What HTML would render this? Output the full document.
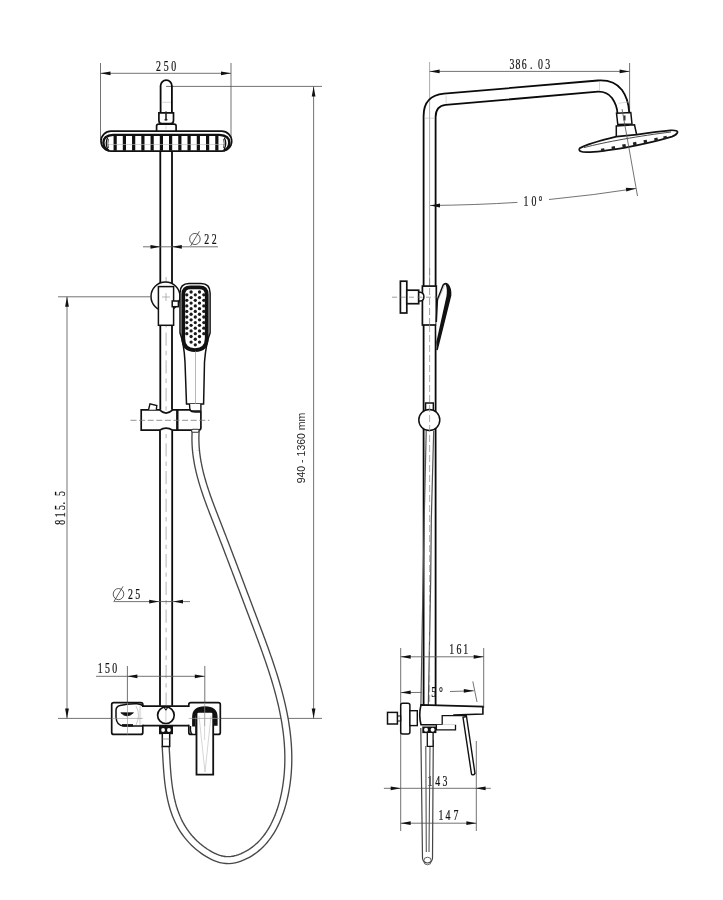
<!DOCTYPE html>
<html><head><meta charset="utf-8"><style>
html,body{margin:0;padding:0;background:#fff;}
svg{display:block;will-change:transform;}
</style></head><body>
<svg width="723" height="900" viewBox="0 0 723 900">
<rect width="723" height="900" fill="#fff"/>
<line x1="100.5" y1="63" x2="100.5" y2="140" fill="none" stroke="#5a5a5a" stroke-width="0.85"/>
<line x1="231" y1="63" x2="231" y2="140" fill="none" stroke="#5a5a5a" stroke-width="0.85"/>
<line x1="100.5" y1="73.3" x2="231" y2="73.3" fill="none" stroke="#5a5a5a" stroke-width="0.85"/>
<polygon points="100.50,73.30 110.50,71.40 110.50,75.20" fill="#111"/>
<polygon points="231.00,73.30 221.00,75.20 221.00,71.40" fill="#111"/>
<g fill="#111" stroke="#111" stroke-width="0.22" font-family="Liberation Serif"><text transform="translate(158.40,70.80) scale(0.68,1)" text-anchor="middle" font-size="14.5">2</text><text transform="translate(166.30,70.80) scale(0.68,1)" text-anchor="middle" font-size="14.5">5</text><text transform="translate(173.80,70.80) scale(0.68,1)" text-anchor="middle" font-size="14.5">0</text></g>
<line x1="166" y1="86.4" x2="322" y2="86.4" fill="none" stroke="#5a5a5a" stroke-width="0.85"/>
<line x1="58" y1="718.4" x2="322" y2="718.4" fill="none" stroke="#5a5a5a" stroke-width="0.85"/>
<line x1="313.6" y1="86.4" x2="313.6" y2="718.4" fill="none" stroke="#5a5a5a" stroke-width="0.85"/>
<polygon points="313.60,86.40 315.50,96.40 311.70,96.40" fill="#111"/>
<polygon points="313.60,718.40 311.70,708.40 315.50,708.40" fill="#111"/>
<text transform="translate(305,448) rotate(-90)" text-anchor="middle" font-family="Liberation Sans" font-size="10.5" fill="#222">940 - 1360 mm</text>
<path d="M160.6,112.8 V85.8 A5.65,5.65 0 0 1 171.9,85.8 V112.8" fill="none" stroke="#0a0a0a" stroke-width="1.8"/>
<line x1="161.5" y1="102.3" x2="171" y2="102.3" stroke="#bbb" stroke-width="0.6"/>
<path d="M158.9,112.9 H173.5 V120.5 Q173.5,123.6 170.5,123.6 H161.9 Q158.9,123.6 158.9,120.5 Z" fill="#fff" stroke="#111" stroke-width="1.7"/>
<path d="M156.6,131 V126 Q156.6,124.1 158.6,124.1 H174.1 Q176.1,124.1 176.1,126 V131" fill="#fff" stroke="#111" stroke-width="1.7"/>
<rect x="165.2" y="111.5" width="1.6" height="8.5" fill="#222"/><ellipse cx="166" cy="119.8" rx="1.6" ry="1" fill="#222"/>
<line x1="166" y1="125.5" x2="166" y2="129.5" stroke="#bbb" stroke-width="0.6"/>
<path d="M111,131.2 H221.7 A10,9.95 0 0 1 221.7,151.1 H111 A10,9.95 0 0 1 111,131.2 Z" fill="#fff" stroke="#111" stroke-width="1.7"/>
<rect x="159.80" y="135.5" width="3.2" height="15.2" fill="#111"/>
<rect x="169.00" y="135.5" width="3.2" height="15.2" fill="#111"/>
<rect x="150.55" y="135.5" width="3.2" height="15.2" fill="#111"/>
<rect x="178.25" y="135.5" width="3.2" height="15.2" fill="#111"/>
<rect x="141.30" y="135.5" width="3.2" height="15.2" fill="#111"/>
<rect x="187.50" y="135.5" width="3.2" height="15.2" fill="#111"/>
<rect x="132.05" y="135.5" width="3.2" height="15.2" fill="#111"/>
<rect x="196.75" y="135.5" width="3.2" height="15.2" fill="#111"/>
<rect x="122.80" y="135.5" width="3.2" height="15.2" fill="#111"/>
<rect x="206.00" y="135.5" width="3.2" height="15.2" fill="#111"/>
<rect x="113.55" y="135.5" width="3.2" height="15.2" fill="#111"/>
<rect x="215.25" y="135.5" width="3.2" height="15.2" fill="#111"/>
<line x1="106" y1="144.5" x2="226" y2="144.5" stroke="#bbb" stroke-width="0.6"/>
<path d="M113,134.9 H219.5 Q229.3,135.6 229.3,142.5 Q229.1,149 223.5,150.6" fill="none" stroke="#111" stroke-width="2.4"/>
<path d="M113,134.9 Q103.4,135.6 103.4,142.5 Q103.6,149 109,150.6" fill="none" stroke="#111" stroke-width="2.4"/>
<path d="M224.3,137.8 Q227.3,143 224.3,149" fill="none" stroke="#111" stroke-width="1.3"/>
<path d="M107.7,137.8 Q104.7,143 107.7,149" fill="none" stroke="#111" stroke-width="1.3"/>
<path d="M108.5,139 Q107.2,143 108.5,148 M223.5,139 Q224.8,143 223.5,148" fill="none" stroke="#555" stroke-width="1"/>
<line x1="160.3" y1="151.3" x2="160.3" y2="286.6" fill="none" stroke="#0a0a0a" stroke-width="1.8"/>
<line x1="160.3" y1="325.3" x2="160.3" y2="409.8" fill="none" stroke="#0a0a0a" stroke-width="1.8"/>
<line x1="172.0" y1="151.3" x2="172.0" y2="286.6" fill="none" stroke="#0a0a0a" stroke-width="1.8"/>
<line x1="172.0" y1="325.3" x2="172.0" y2="409.8" fill="none" stroke="#0a0a0a" stroke-width="1.8"/>
<line x1="160.0" y1="430.5" x2="160.0" y2="705.8" fill="none" stroke="#0a0a0a" stroke-width="1.8"/>
<line x1="172.2" y1="430.5" x2="172.2" y2="705.8" fill="none" stroke="#0a0a0a" stroke-width="1.8"/>
<line x1="166.1" y1="275" x2="166.1" y2="705" stroke="#bbb" stroke-width="1.1" stroke-dasharray="13.3,5,4.4,5" stroke-dashoffset="25.6"/>
<line x1="143" y1="246.8" x2="218" y2="246.8" fill="none" stroke="#5a5a5a" stroke-width="0.85"/>
<polygon points="160.50,246.80 150.50,248.70 150.50,244.90" fill="#111"/>
<polygon points="171.80,246.80 181.80,244.90 181.80,248.70" fill="#111"/>
<ellipse cx="194.9" cy="239" rx="5.3" ry="5.565" fill="none" stroke="#333" stroke-width="0.8"/>
<line x1="190.66" y1="245.89" x2="199.405" y2="231.315" stroke="#333" stroke-width="0.8"/>
<g fill="#111" stroke="#111" stroke-width="0.22" font-family="Liberation Serif"><text transform="translate(206.80,243.80) scale(0.68,1)" text-anchor="middle" font-size="14.5">2</text><text transform="translate(214.30,243.80) scale(0.68,1)" text-anchor="middle" font-size="14.5">2</text></g>
<line x1="113.5" y1="601.6" x2="190" y2="601.6" fill="none" stroke="#5a5a5a" stroke-width="0.85"/>
<polygon points="159.20,601.60 149.20,603.50 149.20,599.70" fill="#111"/>
<polygon points="173.00,601.60 183.00,599.70 183.00,603.50" fill="#111"/>
<ellipse cx="118.5" cy="594.1" rx="5.3" ry="5.565" fill="none" stroke="#333" stroke-width="0.8"/>
<line x1="114.26" y1="600.99" x2="123.005" y2="586.4150000000001" stroke="#333" stroke-width="0.8"/>
<g fill="#111" stroke="#111" stroke-width="0.22" font-family="Liberation Serif"><text transform="translate(130.50,598.70) scale(0.68,1)" text-anchor="middle" font-size="14.5">2</text><text transform="translate(137.80,598.70) scale(0.68,1)" text-anchor="middle" font-size="14.5">5</text></g>
<line x1="58" y1="296.8" x2="150" y2="296.8" fill="none" stroke="#5a5a5a" stroke-width="0.85"/>
<line x1="67" y1="296.8" x2="67" y2="718.4" fill="none" stroke="#5a5a5a" stroke-width="0.85"/>
<polygon points="67.00,296.80 68.90,306.80 65.10,306.80" fill="#111"/>
<polygon points="67.00,718.40 65.10,708.40 68.90,708.40" fill="#111"/>
<g fill="#111" stroke="#111" stroke-width="0.22" font-family="Liberation Serif"><text transform="translate(64.70,522.30) rotate(-90) scale(0.68,1)" text-anchor="middle" font-size="14.5">8</text><text transform="translate(64.70,514.80) rotate(-90) scale(0.68,1)" text-anchor="middle" font-size="14.5">1</text><text transform="translate(64.70,507.50) rotate(-90) scale(0.68,1)" text-anchor="middle" font-size="14.5">5</text><text transform="translate(64.70,503.20) rotate(-90) scale(0.68,1)" text-anchor="middle" font-size="14.5">.</text><text transform="translate(64.70,493.50) rotate(-90) scale(0.68,1)" text-anchor="middle" font-size="14.5">5</text></g>
<line x1="96" y1="676.3" x2="205" y2="676.3" fill="none" stroke="#5a5a5a" stroke-width="0.85"/>
<line x1="127.4" y1="666" x2="127.4" y2="703" fill="none" stroke="#5a5a5a" stroke-width="0.85"/>
<line x1="204.8" y1="666" x2="204.8" y2="703" fill="none" stroke="#5a5a5a" stroke-width="0.85"/>
<polygon points="127.40,676.30 137.40,674.40 137.40,678.20" fill="#111"/>
<polygon points="204.80,676.30 194.80,678.20 194.80,674.40" fill="#111"/>
<g fill="#111" stroke="#111" stroke-width="0.22" font-family="Liberation Serif"><text transform="translate(100.10,673.10) scale(0.68,1)" text-anchor="middle" font-size="14.5">1</text><text transform="translate(107.40,673.10) scale(0.68,1)" text-anchor="middle" font-size="14.5">5</text><text transform="translate(114.70,673.10) scale(0.68,1)" text-anchor="middle" font-size="14.5">0</text></g>
<circle cx="165.5" cy="296.5" r="14.5" fill="#fff" stroke="#111" stroke-width="1.5"/>
<rect x="158.4" y="286.6" width="15.2" height="38.7" fill="#fff" stroke="#111" stroke-width="1.5"/>
<rect x="172.2" y="301" width="6.2" height="5.7" fill="#fff" stroke="#111" stroke-width="1.5"/>
<line x1="162" y1="297" x2="170" y2="297" fill="none" stroke="#999" stroke-width="0.7"/>
<line x1="166" y1="293" x2="166" y2="301" fill="none" stroke="#999" stroke-width="0.7"/>
<path d="M186.5,404 L185,362 Q184,343 180,333 V293 Q180,283.6 189,283.6 H201 Q210.1,283.6 210.1,293 V333 Q206,343 204.5,362 L203.6,404 Z" fill="#fff" stroke="#111" stroke-width="1.5"/>
<path d="M183.25,294.5 Q183.25,287.35 190.5,287.35 H199.5 Q206.75,287.35 206.75,294.5 V338.3 Q206.75,350.05 195,350.05 Q183.25,350.05 183.25,338.3 Z" fill="none" stroke="#111" stroke-width="3.8"/>
<circle cx="191.10" cy="292.00" r="1.65" fill="#1a1a1a"/>
<circle cx="199.50" cy="292.00" r="1.65" fill="#1a1a1a"/>
<circle cx="186.80" cy="294.78" r="1.65" fill="#1a1a1a"/>
<circle cx="195.30" cy="294.78" r="1.65" fill="#1a1a1a"/>
<circle cx="203.80" cy="294.78" r="1.65" fill="#1a1a1a"/>
<circle cx="191.10" cy="297.56" r="1.65" fill="#1a1a1a"/>
<circle cx="199.50" cy="297.56" r="1.65" fill="#1a1a1a"/>
<circle cx="186.80" cy="300.34" r="1.65" fill="#1a1a1a"/>
<circle cx="195.30" cy="300.34" r="1.65" fill="#1a1a1a"/>
<circle cx="203.80" cy="300.34" r="1.65" fill="#1a1a1a"/>
<circle cx="191.10" cy="303.12" r="1.65" fill="#1a1a1a"/>
<circle cx="199.50" cy="303.12" r="1.65" fill="#1a1a1a"/>
<circle cx="186.80" cy="305.90" r="1.65" fill="#1a1a1a"/>
<circle cx="195.30" cy="305.90" r="1.65" fill="#1a1a1a"/>
<circle cx="203.80" cy="305.90" r="1.65" fill="#1a1a1a"/>
<circle cx="191.10" cy="308.68" r="1.65" fill="#1a1a1a"/>
<circle cx="199.50" cy="308.68" r="1.65" fill="#1a1a1a"/>
<circle cx="186.80" cy="311.46" r="1.65" fill="#1a1a1a"/>
<circle cx="195.30" cy="311.46" r="1.65" fill="#1a1a1a"/>
<circle cx="203.80" cy="311.46" r="1.65" fill="#1a1a1a"/>
<circle cx="191.10" cy="314.24" r="1.65" fill="#1a1a1a"/>
<circle cx="199.50" cy="314.24" r="1.65" fill="#1a1a1a"/>
<circle cx="186.80" cy="317.02" r="1.65" fill="#1a1a1a"/>
<circle cx="195.30" cy="317.02" r="1.65" fill="#1a1a1a"/>
<circle cx="203.80" cy="317.02" r="1.65" fill="#1a1a1a"/>
<circle cx="191.10" cy="319.80" r="1.65" fill="#1a1a1a"/>
<circle cx="199.50" cy="319.80" r="1.65" fill="#1a1a1a"/>
<circle cx="186.80" cy="322.58" r="1.65" fill="#1a1a1a"/>
<circle cx="195.30" cy="322.58" r="1.65" fill="#1a1a1a"/>
<circle cx="203.80" cy="322.58" r="1.65" fill="#1a1a1a"/>
<circle cx="191.10" cy="325.36" r="1.65" fill="#1a1a1a"/>
<circle cx="199.50" cy="325.36" r="1.65" fill="#1a1a1a"/>
<circle cx="186.80" cy="328.14" r="1.65" fill="#1a1a1a"/>
<circle cx="195.30" cy="328.14" r="1.65" fill="#1a1a1a"/>
<circle cx="203.80" cy="328.14" r="1.65" fill="#1a1a1a"/>
<circle cx="191.10" cy="330.92" r="1.65" fill="#1a1a1a"/>
<circle cx="199.50" cy="330.92" r="1.65" fill="#1a1a1a"/>
<circle cx="186.80" cy="333.70" r="1.65" fill="#1a1a1a"/>
<circle cx="195.30" cy="333.70" r="1.65" fill="#1a1a1a"/>
<circle cx="203.80" cy="333.70" r="1.65" fill="#1a1a1a"/>
<circle cx="191.10" cy="336.48" r="1.65" fill="#1a1a1a"/>
<circle cx="199.50" cy="336.48" r="1.65" fill="#1a1a1a"/>
<circle cx="195.30" cy="339.26" r="1.65" fill="#1a1a1a"/>
<circle cx="191.10" cy="342.04" r="1.65" fill="#1a1a1a"/>
<circle cx="199.50" cy="342.04" r="1.65" fill="#1a1a1a"/>
<circle cx="195.30" cy="344.82" r="1.65" fill="#1a1a1a"/>
<line x1="195.5" y1="351" x2="195.5" y2="404" fill="none" stroke="#999" stroke-width="0.7"/>
<path d="M189.5,404 Q189.5,409 190.5,411 H200.9 V404" fill="#fff" stroke="#111" stroke-width="1.4"/>
<path d="M141.2,409.9 H159.6 Q166,416.2 172.7,409.9 H189.5 Q191.5,412 195,412 H200.9 V427.5 Q200.9,430.2 198.5,430.2 H172.7 Q166,426 159.6,430.2 H141.2 Z" fill="#fff" stroke="#111" stroke-width="1.7"/>
<line x1="177.3" y1="409.8" x2="177.3" y2="430.5" stroke="#111" stroke-width="2.4"/>
<path d="M148.5,409.8 L150,403.8 L156.8,405.5 L156.3,409.8" fill="#fff" stroke="#111" stroke-width="1.4"/>
<line x1="130.5" y1="420.3" x2="209.4" y2="420.3" stroke="#777" stroke-width="0.8" stroke-dasharray="6,2.6"/>
<path d="M195.71,430.43 L195.54,433.30 L195.44,436.16 L195.42,439.01 L195.46,441.85 L195.57,444.67 L195.74,447.48 L195.97,450.29 L196.27,453.08 L196.62,455.86 L197.02,458.63 L197.48,461.39 L197.98,464.15 L198.54,466.89 L199.14,469.63 L199.78,472.35 L200.46,475.07 L201.19,477.78 L201.94,480.48 L202.74,483.18 L203.56,485.86 L204.41,488.55 L205.29,491.22 L206.20,493.89 L207.12,496.55 L208.07,499.21 L209.03,501.86 L210.01,504.51 L211.00,507.15 L212.01,509.79 L213.02,512.43 L214.04,515.06 L215.06,517.69 L216.09,520.31 L217.11,522.94 L218.13,525.56 L219.15,528.18 L220.16,530.79 L221.17,533.41 L222.18,536.02 L223.19,538.63 L224.19,541.24 L225.19,543.85 L226.19,546.46 L227.19,549.06 L228.18,551.67 L229.17,554.27 L230.17,556.88 L231.16,559.48 L232.15,562.08 L233.13,564.69 L234.12,567.29 L235.11,569.89 L236.09,572.50 L237.08,575.10 L238.06,577.71 L239.04,580.31 L240.03,582.92 L241.01,585.53 L241.99,588.13 L242.98,590.74 L243.96,593.36 L244.95,595.97 L245.93,598.58 L246.92,601.20 L247.91,603.82 L248.89,606.44 L249.88,609.07 L250.87,611.69 L251.87,614.32 L252.86,616.95 L253.86,619.59 L254.85,622.23 L255.85,624.87 L256.85,627.51 L257.84,630.16 L258.84,632.81 L259.83,635.46 L260.81,638.11 L261.79,640.77 L262.77,643.43 L263.74,646.10 L264.70,648.76 L265.66,651.43 L266.60,654.10 L267.54,656.78 L268.47,659.46 L269.39,662.14 L270.29,664.82 L271.18,667.51 L272.06,670.20 L272.92,672.89 L273.77,675.59 L274.61,678.29 L275.42,680.99 L276.22,683.69 L277.00,686.40 L277.77,689.11 L278.51,691.82 L279.23,694.53 L279.93,697.25 L280.61,699.97 L281.27,702.70 L281.90,705.42 L282.50,708.15 L283.09,710.88 L283.64,713.62 L284.17,716.35 L284.67,719.09 L285.15,721.84 L285.59,724.58 L286.00,727.33 L286.38,730.08 L286.73,732.83 L287.05,735.59 L287.34,738.35 L287.59,741.11 L287.80,743.87 L287.98,746.64 L288.13,749.41 L288.23,752.18 L288.30,754.96 L288.33,757.74 L288.32,760.52 L288.27,763.30 L288.18,766.08 L288.04,768.87 L287.87,771.66 L287.65,774.46 L287.38,777.25 L287.07,780.05 L286.71,782.85 L286.31,785.65 L285.86,788.46 L285.36,791.27 L284.81,794.08 L284.21,796.88 L283.56,799.68 L282.85,802.47 L282.08,805.24 L281.26,807.99 L280.38,810.72 L279.43,813.42 L278.43,816.09 L277.35,818.73 L276.22,821.32 L275.01,823.88 L273.74,826.38 L272.39,828.84 L270.97,831.23 L269.48,833.57 L267.91,835.85 L266.26,838.06 L264.53,840.20 L262.72,842.26 L260.83,844.25 L258.85,846.15 L256.79,847.96 L254.64,849.69 L252.40,851.32 L250.07,852.85 L247.64,854.27 L245.12,855.59 L242.52,856.79 L239.86,857.83 L237.14,858.71 L234.39,859.39 L231.61,859.86 L228.84,860.09 L226.07,860.05 L223.34,859.75 L220.63,859.18 L217.97,858.39 L215.34,857.39 L212.76,856.22 L210.22,854.90 L207.74,853.46 L205.32,851.92 L202.95,850.30 L200.65,848.58 L198.42,846.78 L196.25,844.91 L194.17,842.96 L192.15,840.94 L190.22,838.85 L188.38,836.70 L186.62,834.49 L184.95,832.23 L183.38,829.92 L181.90,827.56 L180.52,825.15 L179.23,822.71 L178.02,820.22 L176.90,817.69 L175.85,815.13 L174.89,812.54 L173.99,809.91 L173.16,807.25 L172.40,804.57 L171.71,801.87 L171.07,799.14 L170.49,796.39 L169.96,793.62 L169.47,790.84 L169.04,788.05 L168.64,785.24 L168.29,782.43 L167.97,779.61 L167.68,776.79 L167.42,773.96 L167.19,771.13 L166.97,768.31 L166.78,765.49 L166.60,762.68 L166.43,759.88 L166.27,757.09 L166.11,754.32 L165.95,751.56 L165.80,748.82 L165.63,746.10" fill="none" stroke="#484848" stroke-width="8.3"/>
<path d="M195.71,430.43 L195.54,433.30 L195.44,436.16 L195.42,439.01 L195.46,441.85 L195.57,444.67 L195.74,447.48 L195.97,450.29 L196.27,453.08 L196.62,455.86 L197.02,458.63 L197.48,461.39 L197.98,464.15 L198.54,466.89 L199.14,469.63 L199.78,472.35 L200.46,475.07 L201.19,477.78 L201.94,480.48 L202.74,483.18 L203.56,485.86 L204.41,488.55 L205.29,491.22 L206.20,493.89 L207.12,496.55 L208.07,499.21 L209.03,501.86 L210.01,504.51 L211.00,507.15 L212.01,509.79 L213.02,512.43 L214.04,515.06 L215.06,517.69 L216.09,520.31 L217.11,522.94 L218.13,525.56 L219.15,528.18 L220.16,530.79 L221.17,533.41 L222.18,536.02 L223.19,538.63 L224.19,541.24 L225.19,543.85 L226.19,546.46 L227.19,549.06 L228.18,551.67 L229.17,554.27 L230.17,556.88 L231.16,559.48 L232.15,562.08 L233.13,564.69 L234.12,567.29 L235.11,569.89 L236.09,572.50 L237.08,575.10 L238.06,577.71 L239.04,580.31 L240.03,582.92 L241.01,585.53 L241.99,588.13 L242.98,590.74 L243.96,593.36 L244.95,595.97 L245.93,598.58 L246.92,601.20 L247.91,603.82 L248.89,606.44 L249.88,609.07 L250.87,611.69 L251.87,614.32 L252.86,616.95 L253.86,619.59 L254.85,622.23 L255.85,624.87 L256.85,627.51 L257.84,630.16 L258.84,632.81 L259.83,635.46 L260.81,638.11 L261.79,640.77 L262.77,643.43 L263.74,646.10 L264.70,648.76 L265.66,651.43 L266.60,654.10 L267.54,656.78 L268.47,659.46 L269.39,662.14 L270.29,664.82 L271.18,667.51 L272.06,670.20 L272.92,672.89 L273.77,675.59 L274.61,678.29 L275.42,680.99 L276.22,683.69 L277.00,686.40 L277.77,689.11 L278.51,691.82 L279.23,694.53 L279.93,697.25 L280.61,699.97 L281.27,702.70 L281.90,705.42 L282.50,708.15 L283.09,710.88 L283.64,713.62 L284.17,716.35 L284.67,719.09 L285.15,721.84 L285.59,724.58 L286.00,727.33 L286.38,730.08 L286.73,732.83 L287.05,735.59 L287.34,738.35 L287.59,741.11 L287.80,743.87 L287.98,746.64 L288.13,749.41 L288.23,752.18 L288.30,754.96 L288.33,757.74 L288.32,760.52 L288.27,763.30 L288.18,766.08 L288.04,768.87 L287.87,771.66 L287.65,774.46 L287.38,777.25 L287.07,780.05 L286.71,782.85 L286.31,785.65 L285.86,788.46 L285.36,791.27 L284.81,794.08 L284.21,796.88 L283.56,799.68 L282.85,802.47 L282.08,805.24 L281.26,807.99 L280.38,810.72 L279.43,813.42 L278.43,816.09 L277.35,818.73 L276.22,821.32 L275.01,823.88 L273.74,826.38 L272.39,828.84 L270.97,831.23 L269.48,833.57 L267.91,835.85 L266.26,838.06 L264.53,840.20 L262.72,842.26 L260.83,844.25 L258.85,846.15 L256.79,847.96 L254.64,849.69 L252.40,851.32 L250.07,852.85 L247.64,854.27 L245.12,855.59 L242.52,856.79 L239.86,857.83 L237.14,858.71 L234.39,859.39 L231.61,859.86 L228.84,860.09 L226.07,860.05 L223.34,859.75 L220.63,859.18 L217.97,858.39 L215.34,857.39 L212.76,856.22 L210.22,854.90 L207.74,853.46 L205.32,851.92 L202.95,850.30 L200.65,848.58 L198.42,846.78 L196.25,844.91 L194.17,842.96 L192.15,840.94 L190.22,838.85 L188.38,836.70 L186.62,834.49 L184.95,832.23 L183.38,829.92 L181.90,827.56 L180.52,825.15 L179.23,822.71 L178.02,820.22 L176.90,817.69 L175.85,815.13 L174.89,812.54 L173.99,809.91 L173.16,807.25 L172.40,804.57 L171.71,801.87 L171.07,799.14 L170.49,796.39 L169.96,793.62 L169.47,790.84 L169.04,788.05 L168.64,785.24 L168.29,782.43 L167.97,779.61 L167.68,776.79 L167.42,773.96 L167.19,771.13 L166.97,768.31 L166.78,765.49 L166.60,762.68 L166.43,759.88 L166.27,757.09 L166.11,754.32 L165.95,751.56 L165.80,748.82 L165.63,746.10" fill="none" stroke="#fff" stroke-width="5.6"/>
<rect x="191.6" y="429.2" width="7.4" height="3" rx="1.2" fill="#fff" stroke="#333" stroke-width="1.1"/>
<path d="M113.8,702.6 H140.8 Q142.8,702.6 142.8,704.6 V732.4 Q142.8,734.4 140.8,734.4 H113.8 Q111.7,734.4 111.7,732.4 V704.6 Q111.7,702.6 113.8,702.6 Z" fill="#fff" stroke="#111" stroke-width="1.7"/>
<path d="M218.3,702.6 H190.8 Q188.8,702.6 188.8,704.6 V732.4 Q188.8,734.4 190.8,734.4 H218.3 Q220.3,734.4 220.3,732.4 V704.6 Q220.3,702.6 218.3,702.6 Z" fill="#fff" stroke="#111" stroke-width="1.7"/>
<rect x="141.5" y="707" width="48.6" height="17.7" fill="#fff"/>
<path d="M142.8,706.1 H188.8 M142.8,725.6 H188.8" fill="none" stroke="#111" stroke-width="1.7"/>
<path d="M143.5,706.1 Q141,704 137,703.8 Q128,703.5 120,705.5 Q116,706.3 116,710.5 V717 Q116.5,726 124,726 H142.8" fill="none" stroke="#111" stroke-width="1.5"/>
<path d="M120.8,712.8 H133.4 Q127,719 120.8,712.8 Z" fill="#111" stroke="#111" stroke-width="0.8"/>
<line x1="122" y1="725.3" x2="133" y2="725.3" stroke="#111" stroke-width="2.4"/>
<path d="M136,706 Q141,715 136,725 M140,706 V725" fill="none" stroke="#bbb" stroke-width="0.8"/>
<line x1="111.7" y1="718.4" x2="142.8" y2="718.4" stroke="#999" stroke-width="0.7"/>
<line x1="127.5" y1="702.6" x2="127.5" y2="734.4" stroke="#999" stroke-width="0.7"/>
<circle cx="165.9" cy="715.2" r="8.3" fill="#fff" stroke="#111" stroke-width="1.7"/>
<path d="M164,707.2 L165.9,710 L167.8,707.2" fill="none" stroke="#111" stroke-width="1.1"/>
<line x1="165.9" y1="710" x2="165.9" y2="722" stroke="#bbb" stroke-width="0.7"/>
<rect x="159" y="725.6" width="14" height="8.6" fill="#111"/>
<circle cx="163.1" cy="730" r="1.9" fill="#fff"/><circle cx="168.9" cy="730" r="1.9" fill="#fff"/>
<path d="M162.3,734 V746.5 H169.7 V734" fill="#fff" stroke="#111" stroke-width="1.5"/>
<line x1="162.3" y1="739" x2="169.7" y2="739" stroke="#777" stroke-width="0.7"/>
<path d="M190.5,726 Q190,734.4 193,734.4 H196 V726" fill="#fff" stroke="#111" stroke-width="1.4"/>
<path d="M196.5,713.5 Q196.5,711.8 198.2,711.8 H211.5 Q213.2,711.8 213.2,713.5 V774.6 H196.5 Z" fill="#fff" stroke="#111" stroke-width="1.8"/>
<path d="M193.9,726.6 V717 Q193.9,708.1 204.85,708.1 Q215.8,708.1 215.8,717 V725.7" fill="none" stroke="#111" stroke-width="3.6"/>
<path d="M197.5,711 Q204.85,709.5 212.2,711" fill="none" stroke="#111" stroke-width="2.5"/>
<path d="M199,716 L205,772 L211,716 M204.6,713 V740" fill="none" stroke="#bbb" stroke-width="0.6"/>
<line x1="188.8" y1="718.4" x2="220.3" y2="718.4" stroke="#999" stroke-width="0.7"/>
<line x1="204.7" y1="702.6" x2="204.7" y2="726" stroke="#999" stroke-width="0.7"/>
<line x1="429.6" y1="62" x2="429.6" y2="286" stroke="#888" stroke-width="0.7"/>
<line x1="629.6" y1="63" x2="629.6" y2="112.5" fill="none" stroke="#5a5a5a" stroke-width="0.85"/>
<line x1="429.6" y1="71.4" x2="629.6" y2="71.4" fill="none" stroke="#5a5a5a" stroke-width="0.85"/>
<polygon points="429.60,71.40 439.60,69.50 439.60,73.30" fill="#111"/>
<polygon points="629.60,71.40 619.60,73.30 619.60,69.50" fill="#111"/>
<g fill="#111" stroke="#111" stroke-width="0.22" font-family="Liberation Serif"><text transform="translate(512.00,68.60) scale(0.68,1)" text-anchor="middle" font-size="14.5">3</text><text transform="translate(518.00,68.60) scale(0.68,1)" text-anchor="middle" font-size="14.5">8</text><text transform="translate(524.30,68.60) scale(0.68,1)" text-anchor="middle" font-size="14.5">6</text><text transform="translate(531.30,68.60) scale(0.68,1)" text-anchor="middle" font-size="14.5">.</text><text transform="translate(540.50,68.60) scale(0.68,1)" text-anchor="middle" font-size="14.5">0</text><text transform="translate(547.70,68.60) scale(0.68,1)" text-anchor="middle" font-size="14.5">3</text></g>
<path d="M423.6,705 V116 Q423.6,95.5 444,93.7 L598,80.5 Q614,79.5 622,90 Q628.5,99 629.2,112.5" fill="none" stroke="#0a0a0a" stroke-width="1.8"/>
<path d="M435.6,705 V117 Q435.6,106 445.7,104.9 L598,91.7 Q607,91.5 612,98 Q617,105 617.5,113.5" fill="none" stroke="#0a0a0a" stroke-width="1.8"/>
<path d="M424.5,118.2 H435 M446.1,95.5 V103.5 M599.5,82 V90.5 M618.5,103.3 L628,102" fill="none" stroke="#bbb" stroke-width="0.6"/>
<path d="M616.5,113.2 L630.8,112.5 L632,124 L617.8,124.6 Z" fill="#fff" stroke="#111" stroke-width="1.5"/>
<rect x="623.5" y="115.5" width="2" height="5" fill="#333"/>
<path d="M616.3,137 V126 L634.5,124.8 L636.8,135.5" fill="#fff" stroke="#111" stroke-width="1.5"/>
<path d="M579.6,148.3 C586,144.5 598,141 616.3,136.6 L636.8,134.6 C650,132.6 662,131 670.5,130.3 Q678.5,130 677.4,132.6 Q676.5,134.8 672,136.6 C658,140.8 642,144.5 624,147.8 C608,150.4 596,152 587,152.2 Q577.5,152.2 579.6,148.3 Z" fill="#fff" stroke="#111" stroke-width="1.7"/>
<path d="M584,147.6 C605,142 640,135.8 671,132" fill="none" stroke="#333" stroke-width="0.9"/>
<rect x="600.90" y="148.54" width="3.4" height="3" fill="#222" transform="rotate(-11 602.40 149.14)"/>
<rect x="611.50" y="146.43" width="3.4" height="3" fill="#222" transform="rotate(-11 613.00 147.03)"/>
<rect x="622.20" y="144.30" width="3.4" height="3" fill="#222" transform="rotate(-11 623.70 144.90)"/>
<rect x="632.90" y="142.17" width="3.4" height="3" fill="#222" transform="rotate(-11 634.40 142.77)"/>
<rect x="643.50" y="140.07" width="3.4" height="3" fill="#222" transform="rotate(-11 645.00 140.67)"/>
<rect x="654.20" y="137.94" width="3.4" height="3" fill="#222" transform="rotate(-11 655.70 138.54)"/>
<rect x="663.30" y="136.13" width="3.4" height="3" fill="#222" transform="rotate(-11 664.80 136.73)"/>
<line x1="622" y1="109" x2="637.5" y2="196" fill="none" stroke="#5a5a5a" stroke-width="0.85"/>
<path d="M430,205.5 Q476,205 517.4,202.4 M549,199.5 Q595,195 636,188.5" fill="none" stroke="#5a5a5a" stroke-width="0.85"/>
<polygon points="430.00,205.50 440.00,203.60 440.00,207.40" fill="#111"/>
<polygon points="636.00,188.50 626.31,191.60 625.84,187.83" fill="#111"/>
<g fill="#111" stroke="#111" stroke-width="0.22" font-family="Liberation Serif"><text transform="translate(526.00,205.70) scale(0.68,1)" text-anchor="middle" font-size="14.5">1</text><text transform="translate(534.00,205.70) scale(0.68,1)" text-anchor="middle" font-size="14.5">0</text><text transform="translate(540.50,205.70) scale(0.68,1)" text-anchor="middle" font-size="14.5">°</text></g>
<rect x="422.4" y="286.1" width="13.9" height="38.9" fill="#fff" stroke="#111" stroke-width="1.7"/>
<rect x="400.4" y="281.2" width="6.4" height="31.8" fill="#fff" stroke="#111" stroke-width="1.7"/>
<rect x="406.8" y="290.2" width="11.9" height="13.5" fill="#fff" stroke="#111" stroke-width="1.7"/>
<path d="M418.7,292.3 H420.5 Q423.9,293 423.9,296.7 Q423.9,300.4 420.5,301.1 H418.7 Z" fill="#fff" stroke="#111" stroke-width="1.5"/>
<line x1="392" y1="297.2" x2="449" y2="297.2" stroke="#777" stroke-width="0.7" stroke-dasharray="5,3.5"/>
<line x1="429.6" y1="268" x2="429.6" y2="325" stroke="#777" stroke-width="0.7" stroke-dasharray="7,3"/>
<path d="M436.3,322 L437.4,300 L443,285.3 Q445,282.5 447.6,284.3 Q451,288 450.6,295.5 L437,350" fill="#fff" stroke="#111" stroke-width="1.5"/>
<path d="M447.6,284.3 Q451,288 450.6,295.5 L437,350 L436.3,342 L446.5,296 Q447.5,289 445.5,284 Z" fill="#111"/>
<path d="M438.5,299 L444.6,285.5" fill="none" stroke="#999" stroke-width="0.6"/>
<path d="M425.6,410 V403 H433.3 V410" fill="#fff" stroke="#111" stroke-width="1.4"/>
<circle cx="429.3" cy="420" r="10.5" fill="#fff" stroke="#111" stroke-width="1.5"/>
<path d="M426.2,431 L424.2,520 L422.1,634 L420.6,722 M433.7,431 L431.3,520 L430.7,580 L428,722" fill="none" stroke="#505050" stroke-width="1.2"/>
<line x1="429.6" y1="325" x2="429.6" y2="705" stroke="#888" stroke-width="0.7" stroke-dasharray="7,3"/>
<line x1="400.7" y1="648" x2="400.7" y2="831" fill="none" stroke="#5a5a5a" stroke-width="0.85"/>
<line x1="483.7" y1="648" x2="483.7" y2="708" fill="none" stroke="#5a5a5a" stroke-width="0.85"/>
<line x1="400.7" y1="656.8" x2="483.7" y2="656.8" fill="none" stroke="#5a5a5a" stroke-width="0.85"/>
<polygon points="400.70,656.80 410.70,654.90 410.70,658.70" fill="#111"/>
<polygon points="483.70,656.80 473.70,658.70 473.70,654.90" fill="#111"/>
<g fill="#111" stroke="#111" stroke-width="0.22" font-family="Liberation Serif"><text transform="translate(451.60,653.80) scale(0.68,1)" text-anchor="middle" font-size="14.5">1</text><text transform="translate(458.90,653.80) scale(0.68,1)" text-anchor="middle" font-size="14.5">6</text><text transform="translate(465.80,653.80) scale(0.68,1)" text-anchor="middle" font-size="14.5">1</text></g>
<line x1="400.7" y1="692.6" x2="422" y2="692.4" fill="none" stroke="#5a5a5a" stroke-width="0.85"/>
<line x1="450" y1="691.5" x2="473.8" y2="690.8" fill="none" stroke="#5a5a5a" stroke-width="0.85"/>
<polygon points="400.70,692.40 410.70,690.50 410.70,694.30" fill="#111"/>
<polygon points="473.80,690.80 463.80,692.70 463.80,688.90" fill="#111"/>
<g fill="#111" stroke="#111" stroke-width="0.22" font-family="Liberation Serif"><text transform="translate(433.80,696.80) scale(0.68,1)" text-anchor="middle" font-size="14.5">5</text><text transform="translate(441.00,696.80) scale(0.68,1)" text-anchor="middle" font-size="14.5">°</text></g>
<line x1="472.8" y1="681.4" x2="477" y2="702" fill="none" stroke="#5a5a5a" stroke-width="0.85"/>
<line x1="383.9" y1="788.3" x2="490.8" y2="788.3" fill="none" stroke="#5a5a5a" stroke-width="0.85"/>
<polygon points="400.70,788.30 390.70,790.20 390.70,786.40" fill="#111"/>
<polygon points="475.60,788.30 485.60,786.40 485.60,790.20" fill="#111"/>
<line x1="476.3" y1="741" x2="476.3" y2="831" fill="none" stroke="#5a5a5a" stroke-width="0.85"/>
<g fill="#111" stroke="#111" stroke-width="0.22" font-family="Liberation Serif"><text transform="translate(430.00,785.60) scale(0.68,1)" text-anchor="middle" font-size="14.5">1</text><text transform="translate(437.60,785.60) scale(0.68,1)" text-anchor="middle" font-size="14.5">4</text><text transform="translate(445.00,785.60) scale(0.68,1)" text-anchor="middle" font-size="14.5">3</text></g>
<line x1="400.7" y1="823.2" x2="476.4" y2="823.2" fill="none" stroke="#5a5a5a" stroke-width="0.85"/>
<polygon points="400.70,823.20 410.70,821.30 410.70,825.10" fill="#111"/>
<polygon points="476.40,823.20 466.40,825.10 466.40,821.30" fill="#111"/>
<g fill="#111" stroke="#111" stroke-width="0.22" font-family="Liberation Serif"><text transform="translate(440.90,819.80) scale(0.68,1)" text-anchor="middle" font-size="14.5">1</text><text transform="translate(448.00,819.80) scale(0.68,1)" text-anchor="middle" font-size="14.5">4</text><text transform="translate(456.00,819.80) scale(0.68,1)" text-anchor="middle" font-size="14.5">7</text></g>
<path d="M420.8,728 L422.5,858 A5,5 0 0 0 432.5,858 L433.3,740" fill="none" stroke="#444" stroke-width="1.2"/>
<path d="M425.8,746 L426.3,852 M430,746 L429,852" fill="none" stroke="#555" stroke-width="1.1"/>
<circle cx="427.5" cy="861" r="3.8" fill="none" stroke="#555" stroke-width="0.9"/>
<path d="M421,704.9 L482.9,706.6 V714 L454,715 V724.8 L421,724.8 Q418.5,714.8 421,704.9 Z" fill="#fff" stroke="#111" stroke-width="1.6"/>
<path d="M442.2,724.8 V715.7 H466.3 V724.8" fill="#fff" stroke="#111" stroke-width="1.3"/>
<path d="M436.4,724.8 V729.8 H455.5 V724.8" fill="#fff" stroke="#111" stroke-width="1.3"/>
<rect x="400.7" y="703.2" width="9.2" height="30.8" rx="2" fill="#fff" stroke="#111" stroke-width="1.5"/>
<rect x="409.9" y="710.7" width="7.4" height="14.9" fill="#fff" stroke="#111" stroke-width="1.4"/>
<rect x="387.5" y="712.4" width="9.9" height="11.6" fill="#fff" stroke="#111" stroke-width="1.5"/>
<path d="M397.4,716 H400.7 V721 H397.4" fill="none" stroke="#111" stroke-width="1.2"/>
<rect x="422.3" y="726.5" width="14.1" height="6.6" fill="#111"/>
<circle cx="426" cy="729.8" r="2" fill="#fff"/><circle cx="432.6" cy="729.8" r="2" fill="#fff"/>
<path d="M427.3,733 V746.4 H433.1 V733" fill="#fff" stroke="#111" stroke-width="1.3"/>
<path d="M463,717.3 L466.5,716.5 L475,773.5 Q473,776 471.5,774 Z" fill="#fff" stroke="#111" stroke-width="1.4"/>
</svg>
</body></html>
